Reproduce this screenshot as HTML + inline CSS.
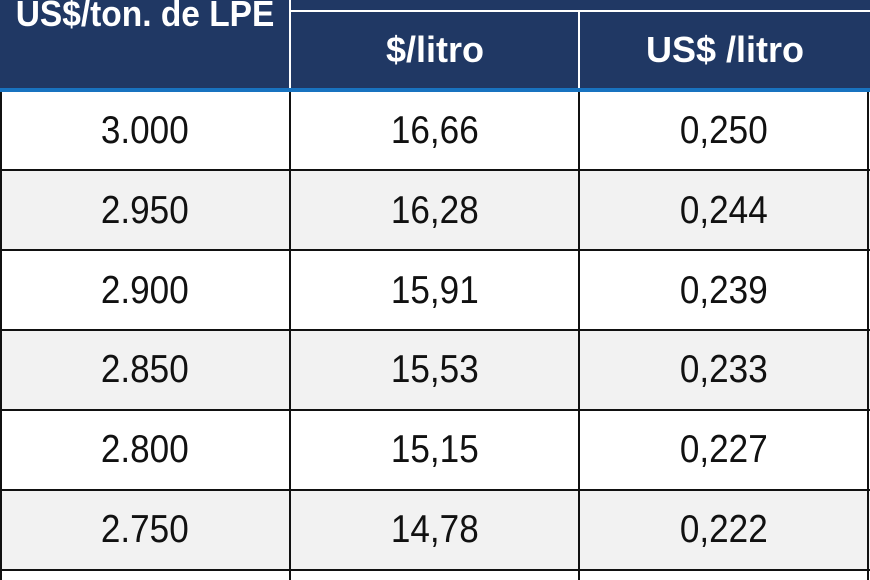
<!DOCTYPE html>
<html><head><style>
html,body{margin:0;width:870px;height:580px;overflow:hidden;background:#fff;font-family:"Liberation Sans",sans-serif}
body{position:relative}
div{position:absolute;box-sizing:border-box}
.hd{left:0;top:0;width:870px;height:88px;background:#203864}
.bl{left:0;top:88px;width:870px;height:4px;background:#1873c0}
.ht{color:#fff;font-weight:bold;font-size:36px;text-align:center;line-height:36px;white-space:nowrap}
.ht span{display:inline-block}
.bg{left:0;width:870px;height:80px;background:#f2f2f2}
.h{left:0;width:870px;height:2px;background:#111}
.v{width:2px;top:92px;height:488px;background:#111}
.c{height:80px;line-height:80px;text-align:center;font-size:39px;color:#111;white-space:nowrap}
.c span{display:inline-block;transform:scaleX(0.9)}
.c1{left:0;width:290px}.c2{left:291px;width:288px}.c3{left:580px;width:288px}
</style></head><body>
<div class="hd"></div>
<div style="left:289px;top:0;width:2px;height:88px;background:#fff"></div>
<div style="left:291px;top:10px;width:579px;height:2px;background:#fff"></div>
<div style="left:578px;top:10px;width:2px;height:78px;background:#fff"></div>
<div class="ht" style="left:0;width:290px;top:-4px"><span style="transform:scaleX(0.93)">US$/ton. de LPE</span></div>
<div class="ht" style="left:291px;width:288px;top:32px">$/litro</div>
<div class="ht" style="left:580px;width:290px;top:32px">US$ /litro</div>
<div class="bl"></div>
<div class="bg" style="top:170px"></div>
<div class="bg" style="top:330px"></div>
<div class="bg" style="top:490px"></div>
<div class="h" style="top:169px"></div>
<div class="h" style="top:249px"></div>
<div class="h" style="top:329px"></div>
<div class="h" style="top:409px"></div>
<div class="h" style="top:489px"></div>
<div class="h" style="top:569px"></div>
<div class="v" style="left:0"></div>
<div class="v" style="left:289px"></div>
<div class="v" style="left:578px"></div>
<div class="v" style="left:867px"></div>

<div class="c c1" style="top:91px"><span>3.000</span></div><div class="c c2" style="top:91px"><span>16,66</span></div><div class="c c3" style="top:91px"><span>0,250</span></div>
<div class="c c1" style="top:171px"><span>2.950</span></div><div class="c c2" style="top:171px"><span>16,28</span></div><div class="c c3" style="top:171px"><span>0,244</span></div>
<div class="c c1" style="top:251px"><span>2.900</span></div><div class="c c2" style="top:251px"><span>15,91</span></div><div class="c c3" style="top:251px"><span>0,239</span></div>
<div class="c c1" style="top:330px"><span>2.850</span></div><div class="c c2" style="top:330px"><span>15,53</span></div><div class="c c3" style="top:330px"><span>0,233</span></div>
<div class="c c1" style="top:410px"><span>2.800</span></div><div class="c c2" style="top:410px"><span>15,15</span></div><div class="c c3" style="top:410px"><span>0,227</span></div>
<div class="c c1" style="top:490px"><span>2.750</span></div><div class="c c2" style="top:490px"><span>14,78</span></div><div class="c c3" style="top:490px"><span>0,222</span></div>
</body></html>
